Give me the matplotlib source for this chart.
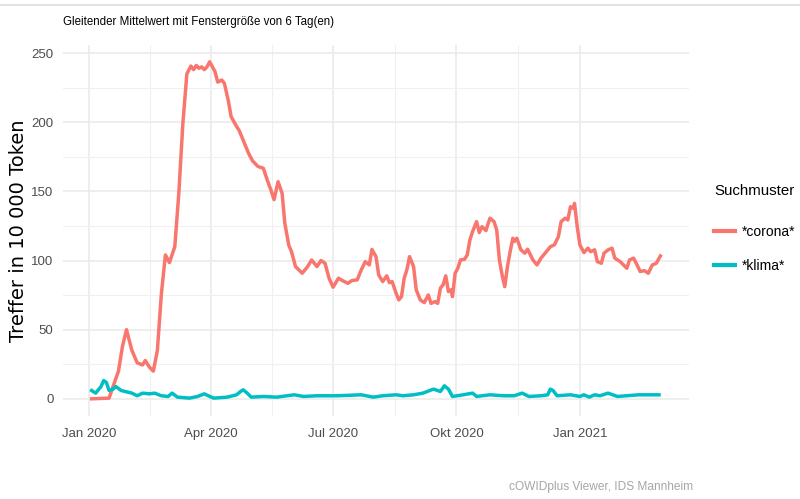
import matplotlib
matplotlib.use("Agg")
import matplotlib.pyplot as plt
from matplotlib.lines import Line2D
import numpy as np
import pandas as pd

# Start of the series, all days below count from here
START = pd.Timestamp("2020-01-01")

# *corona* (days since START, hits per 10 000 tokens)
corona_day = [2, 15, 18, 22, 25, 28, 32, 36, 40, 42, 45, 48, 51, 54, 57, 60, 64, 67, 70, 73,
              76, 78, 80, 82, 84, 86, 88, 90, 94, 96, 99, 101, 104, 106, 110, 112, 115, 119, 122, 126,
              130, 133, 136, 138, 141, 144, 146, 149, 151, 154, 159, 163, 166, 170, 173, 176, 179, 182, 186, 189,
              193, 196, 200, 203, 206, 209, 211, 214, 216, 219, 222, 224, 226, 229, 231, 233, 235, 237, 239, 242,
              244, 247, 250, 253, 255, 258, 260, 262, 264, 266, 268, 270, 271, 273, 275, 277, 280, 282, 284, 286,
              289, 291, 293, 296, 297, 299, 302, 304, 306, 308, 310, 312, 314, 316, 317, 319, 322, 325, 327, 331,
              334, 337, 341, 344, 347, 350, 352, 355, 357, 359, 361, 362, 364, 366, 369, 372, 374, 377, 379, 382,
              384, 387, 390, 392, 396, 401, 403, 406, 408, 411, 414, 417, 420, 423, 426]
corona_val = [0, 0.5, 9, 20, 38, 50, 35, 26, 24.5, 27.7, 23, 20, 35, 76, 104, 98.5, 110, 148.6, 199, 235,
              240.6, 238, 241, 239, 240, 238, 240, 243.7, 236.5, 229, 230.5, 228, 215, 204, 197, 194, 187, 177.5, 172, 168,
              166.7, 158, 150, 144, 157, 148.6, 127, 111, 106.4, 95.6, 90.8, 95.6, 100.4, 95.6, 100, 98, 87.2, 80.7, 87.2, 85.5,
              83.5, 85.5, 86, 93.2, 99.2, 96.8, 108, 102.8, 89.6, 84.8, 88.9, 84, 84.8, 76.3, 71.5, 73.9, 87.2, 93.2, 102.8, 95.6,
              78.8, 71.5, 69.6, 75.1, 69, 70.3, 69, 80, 82.4, 88.9, 77.5, 78.8, 73.9, 90.8, 94.4, 100.4, 100.9, 104, 114.9, 120.9,
              128.1, 120.2, 124.5, 121.6, 125, 130.6, 128.1, 122, 100.4, 89.6, 81.1, 95.6, 106.4, 116.1, 113.7, 116.1, 107.7, 105.3, 108.2, 100.4,
              96.8, 101.7, 106.4, 110, 111.3, 117.3, 128.1, 130.6, 129.3, 138.9, 137.7, 141.3, 124.5, 111.3, 105.7, 108.9, 106.4, 107.7, 99.2, 98,
              105.3, 107.7, 108.9, 101.7, 99.2, 94.4, 100.4, 101.7, 98, 92, 92.7, 90.8, 96.8, 98, 103.3]

# *klima*
klima_day = [2, 5, 9, 11, 13, 15, 18, 20, 24, 27, 32, 36, 40, 45, 49, 54, 59, 62, 66, 75,
             81, 86, 89, 93, 103, 110, 113, 115, 118, 121, 130, 140, 153, 160, 170, 185, 203, 212, 219, 229,
             234, 242, 249, 254, 257, 262, 265, 268, 271, 279, 286, 289, 299, 309, 317, 323, 328, 337, 342, 344,
             346, 349, 359, 366, 369, 373, 377, 381, 387, 394, 410, 425]
klima_val = [6, 4.1, 8.9, 13.2, 11.8, 6, 7, 8.9, 6, 5.3, 4.1, 2.2, 4.1, 3.6, 4.1, 2.2, 1.7, 4.1, 1.2, 0.5,
             1.7, 3.6, 2.2, 0.5, 1.2, 2.9, 5.3, 6.5, 4.1, 1.2, 1.7, 1.2, 2.9, 1.7, 2.2, 2.2, 2.9, 1.2, 2.2, 2.9,
             2.2, 2.9, 4.1, 6, 7, 5.3, 9.4, 7, 1.7, 2.9, 4.1, 1.7, 2.9, 2.2, 2.2, 4.1, 1.7, 2.2, 2.9, 7,
             6, 2.2, 2.9, 1.7, 2.9, 1.2, 2.9, 2.2, 4.1, 1.7, 2.9, 2.9]

series_names = ["*corona*", "*klima*"]
series_colors = ["#F8766D", "#00BFC4"]

x_ticks = ["2020-01-01", "2020-04-01", "2020-07-01", "2020-10-01", "2021-01-01"]
x_tick_labels = ["Jan 2020", "Apr 2020", "Jul 2020", "Okt 2020", "Jan 2021"]
y_ticks = [0, 50, 100, 150, 200, 250]

title = "Gleitender Mittelwert mit Fenstergröße von 6 Tag(en)"
y_label = "Treffer in 10 000 Token"
legend_title = "Suchmuster"
caption = "cOWIDplus Viewer, IDS Mannheim"

SANS = ["Liberation Sans", "DejaVu Sans"]
plt.rcParams["font.family"] = SANS


def to_dates(days):
    return START + pd.to_timedelta(days, unit="D")


fig = plt.figure(figsize=(8, 4.99), dpi=100)
ax = fig.add_axes([0.079, 0.167, 0.782, 0.743])

for days, vals, name, color in zip([corona_day, klima_day], [corona_val, klima_val], series_names, series_colors):
    ax.plot(to_dates(days), vals, color=color, linewidth=2.5, label=name, solid_joinstyle="round")

# ggplot style scale expansion (5% each side)
d_min = min(corona_day[0], klima_day[0])
d_max = max(corona_day[-1], klima_day[-1])
pad = 0.05 * (d_max - d_min)
ax.set_xlim(to_dates([d_min - pad, d_max + pad]))
y_max = max(max(corona_val), max(klima_val))
ax.set_ylim(-0.05 * y_max, y_max * 1.05)

major = pd.to_datetime(x_ticks)
minor = major[:-1] + (major[1:] - major[:-1]) / 2
ax.set_xticks(major)
ax.set_xticklabels(x_tick_labels)
ax.set_xticks(minor, minor=True)
ax.set_yticks(y_ticks)
ax.set_yticks(np.array(y_ticks[:-1]) + 25, minor=True)

ax.grid(which="major", color="#EBEBEB", linewidth=1.2)
ax.grid(which="minor", color="#F0F0F0", linewidth=0.8)
ax.set_axisbelow(True)
for s in ax.spines.values():
    s.set_visible(False)
ax.tick_params(which="both", length=0)
ax.tick_params(axis="x", pad=9, labelsize=9.5, labelcolor="#4D4D4D")
ax.tick_params(axis="y", pad=7, labelsize=9.5, labelcolor="#4D4D4D")

ax.set_ylabel(y_label, fontsize=14, family="DejaVu Sans")
ax.yaxis.set_label_coords(-0.056, 0.5)
fig.text(0.079, 0.956, title, fontsize=8.3, ha="left", va="center")
fig.text(0.866, 0.024, caption, fontsize=8.6, color="#A6A6A6", ha="right", va="center")

leg = fig.legend(loc="upper left", bbox_to_anchor=(0.893, 0.631), frameon=False,
                 title=legend_title, prop={"size": 10},
                 handlelength=1.45, handletextpad=0.5, labelspacing=1.5,
                 borderpad=0, borderaxespad=0)
leg.get_title().set_fontsize(10.8)
leg._legend_box.align = "left"
leg._legend_box.sep = 19
for h in leg.get_lines():
    h.set_linewidth(3)

# thin rule along the top of the image
fig.add_artist(Line2D([0, 1], [0.99, 0.99], transform=fig.transFigure, color="#E3E3E3", linewidth=1.5))

fig.savefig("out.png", dpi=100)
